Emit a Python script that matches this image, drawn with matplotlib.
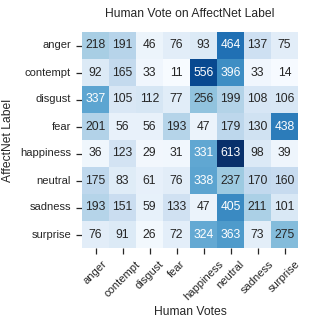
import matplotlib
matplotlib.use('Agg')
import matplotlib.pyplot as plt
import numpy as np
import seaborn as sns

labels = ['anger', 'contempt', 'disgust', 'fear', 'happiness', 'neutral', 'sadness', 'surprise']

anger = [218, 191, 46, 76, 93, 464, 137, 75]
contempt = [92, 165, 33, 11, 556, 396, 33, 14]
disgust = [337, 105, 112, 77, 256, 199, 108, 106]
fear = [201, 56, 56, 193, 47, 179, 130, 438]
happiness = [36, 123, 29, 31, 331, 613, 98, 39]
neutral = [175, 83, 61, 76, 338, 237, 170, 160]
sadness = [193, 151, 59, 133, 47, 405, 211, 101]
surprise = [76, 91, 26, 72, 324, 363, 73, 275]

votes = np.array([anger, contempt, disgust, fear, happiness, neutral, sadness, surprise])

sns.set_style('ticks')
plt.rcParams['font.family'] = ['Liberation Sans', 'DejaVu Sans']

fig = plt.figure(figsize=(3.09, 3.22), dpi=100)
ax = fig.add_axes([82 / 309, 1 - 248 / 322, 216 / 309, 216 / 322])
sns.heatmap(votes, ax=ax, cmap='Blues', annot=True, fmt='d', cbar=False,
            square=True, xticklabels=labels, yticklabels=labels,
            annot_kws={'fontsize': 8.7})
ax.set_title('Human Vote on AffectNet Label', fontsize=8.7, pad=11)
ax.set_xlabel('Human Votes', fontsize=8.7, labelpad=3)
ax.set_ylabel('AffectNet Label', fontsize=8.7, labelpad=4)
ax.tick_params(axis='x', labelsize=8, rotation=45, length=4.4, width=0.9)
ax.tick_params(axis='y', labelsize=8, rotation=0, length=4.4, width=0.9)
fig.savefig('out.png', dpi=100)
